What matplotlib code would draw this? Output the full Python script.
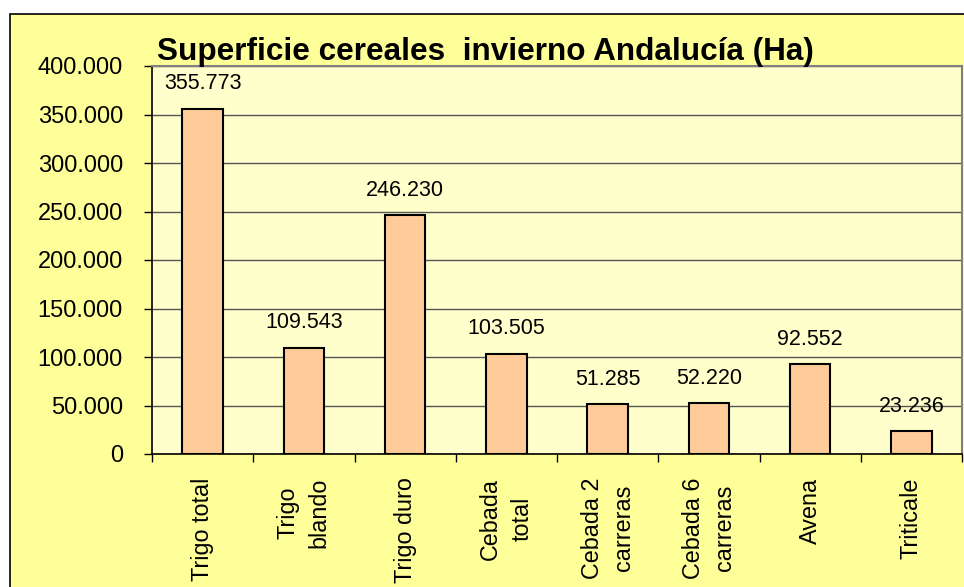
import numpy as np
import matplotlib
matplotlib.use("Agg")
from matplotlib import pyplot as plt
from matplotlib.patches import Rectangle
from matplotlib.ticker import FuncFormatter, MultipleLocator

# data
categories = ['Trigo total', 'Trigo\nblando', 'Trigo duro', 'Cebada\ntotal',
              'Cebada 2\ncarreras', 'Cebada 6\ncarreras', 'Avena', 'Triticale']
superficie = [355773, 109543, 246230, 103505, 51285, 52220, 92552, 23236]

plt.rcParams['font.family'] = ['Liberation Sans', 'DejaVu Sans']

fig = plt.figure(figsize=(9.64, 5.87), dpi=100)
fig.patch.set_facecolor('white')

# outer chart frame (cut off at right and bottom like the original)
frame = Rectangle((10 / 964, -0.1), 1.2, 1 - 14 / 587 + 0.1, transform=fig.transFigure,
                  facecolor='#FFFF99', edgecolor='black', linewidth=1.2, zorder=-5)
fig.patches.append(frame)

ax = fig.add_axes([152 / 964, 1 - 454 / 587, (962 - 152) / 964, (454 - 66) / 587])
ax.set_facecolor('#FFFFCC')

index = np.arange(len(categories))
bars = ax.bar(index, superficie, width=0.4, color='#FFCC99', edgecolor='black',
              linewidth=1.5, zorder=3)

def miles(v, pos):
    return '{:,.0f}'.format(v).replace(',', '.')

for x, v in zip(index, superficie):
    ax.annotate(miles(v, None), (x, v), xytext=(0, 14), textcoords='offset points',
                ha='center', va='baseline', fontsize=15.5, color='black')

ax.set_xlim(-0.5, len(categories) - 0.5)
ax.set_ylim(0, 400000)
ax.yaxis.set_major_locator(MultipleLocator(50000))
ax.yaxis.set_major_formatter(FuncFormatter(miles))
ax.grid(axis='y', color='#555555', linewidth=1, zorder=1)
ax.set_axisbelow(True)

ax.set_xticks(index)
ax.set_xticklabels(categories, rotation=90, fontsize=16.8, ha='center', va='top',
                   multialignment='center', linespacing=1.45)
ax.set_xticks(np.arange(len(categories) + 1) - 0.5, minor=True)
ax.tick_params(axis='x', which='major', length=0, pad=17)
ax.tick_params(axis='x', which='minor', length=6, width=1, direction='out')
ax.tick_params(axis='y', length=6, width=1, direction='out', pad=15, labelsize=17)

for side in ['left', 'bottom']:
    ax.spines[side].set_color('black')
    ax.spines[side].set_linewidth(1.2)
for side in ['top', 'right']:
    ax.spines[side].set_color('#808080')
    ax.spines[side].set_linewidth(1.5)

fig.text(157 / 964, 1 - 60 / 587, 'Superficie cereales  invierno Andalucía (Ha)',
         fontsize=22.7, fontweight='bold', ha='left', va='baseline')

plt.savefig('out.png', dpi=100)
